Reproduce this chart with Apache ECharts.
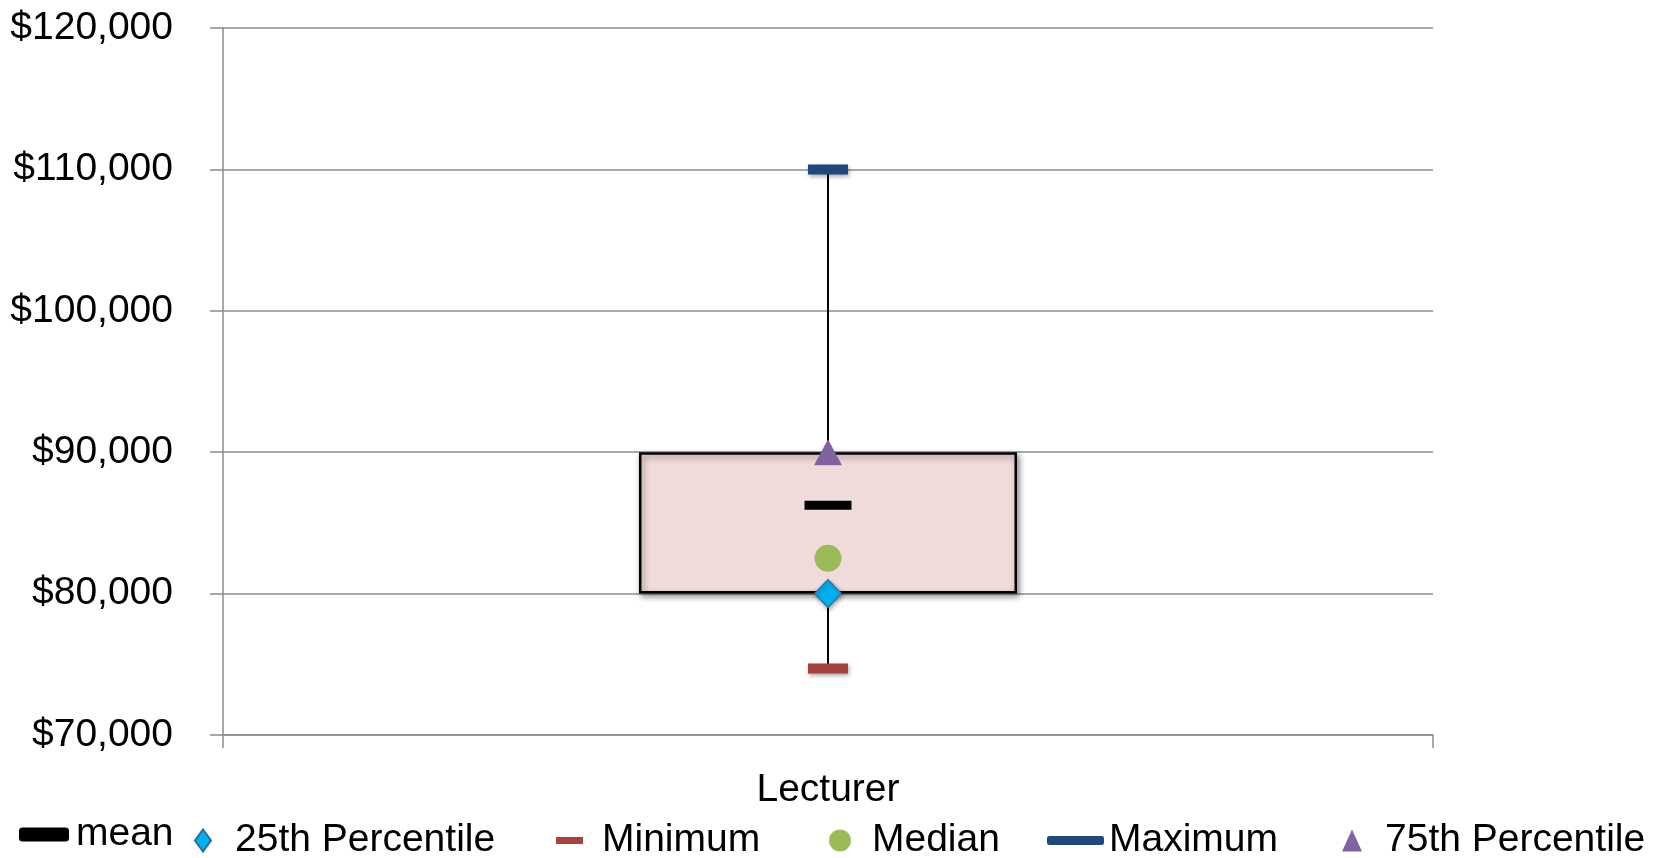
<!DOCTYPE html>
<html>
<head>
<meta charset="utf-8">
<script src="https://cdn.jsdelivr.net/npm/echarts@6/dist/echarts.min.js"></script>
<style>
html,body{margin:0;padding:0;background:#fff;}
#c{width:1667px;height:858px;}
</style>
</head>
<body>
<div id="c"></div>
<script>
const categories = ['Lecturer'];
const minVals = [74700];
const q1Vals = [80000];
const medianVals = [82500];
const meanVals = [86250];
const q3Vals = [90000];
const maxVals = [110000];
const yTicks = [70000, 80000, 90000, 100000, 110000, 120000];

const FONT = '"Liberation Sans", Arial, sans-serif';
const FS = 39;
const chart = echarts.init(document.getElementById('c'));

const boxHeights = q3Vals.map((v, i) => v - q1Vals[i]);
const whiskerData = [];
categories.forEach((c, i) => { whiskerData.push([c, minVals[i]], [c, maxVals[i]]); });

function lg(name, left, top, w, h, pad, icon) {
  const o = {
    data: [name], left: left, top: top, itemWidth: w, itemHeight: h, padding: 0,
    textStyle: { fontFamily: FONT, fontSize: FS, color: '#000', padding: [0, 0, 0, pad] },
    selectedMode: false
  };
  if (icon) o.icon = icon;
  return o;
}

const option = {
  animation: false,
  backgroundColor: '#fff',
  grid: { left: 223, right: 234, top: 28, bottom: 123 },
  legend: [
    lg('mean', 19, 815, 50, 14, 2, 'roundRect'),
    lg('25th Percentile', 194, 821, 16, 22, 19, 'diamond'),
    lg('Minimum', 556, 821, 27, 7, 14, 'rect'),
    lg('Median', 829, 821, 22, 22, 16, 'circle'),
    lg('Maximum', 1047, 821, 57, 9, 0, 'roundRect'),
    lg('75th Percentile', 1342, 821, 20, 22, 18, 'triangle')
  ],
  xAxis: {
    type: 'category',
    data: categories,
    boundaryGap: true,
    axisLine: { lineStyle: { color: '#8c8c8c', width: 1.5 } },
    axisTick: { show: true, length: 13, lineStyle: { color: '#8c8c8c', width: 1.5 } },
    axisLabel: { fontFamily: FONT, fontSize: FS, color: '#000', margin: 36 }
  },
  yAxis: {
    type: 'value',
    min: yTicks[0],
    max: yTicks[yTicks.length - 1],
    interval: 10000,
    axisLine: { show: true, lineStyle: { color: '#8c8c8c', width: 1.5 } },
    axisTick: { show: true, length: 13, lineStyle: { color: '#8c8c8c', width: 1.5 } },
    splitLine: { lineStyle: { color: '#8c8c8c', width: 1.5 } },
    axisLabel: {
      fontFamily: FONT, fontSize: FS, color: '#000', margin: 50,
      formatter: v => '$' + v.toLocaleString('en-US')
    }
  },
  series: [
    {
      name: 'whisker', type: 'line', data: whiskerData, symbol: 'none', z: 1,
      lineStyle: { color: '#000', width: 2 }, silent: true
    },
    {
      name: 'base', type: 'bar', stack: 'box', data: q1Vals, barWidth: 378, z: 2,
      itemStyle: { color: 'transparent' }, silent: true
    },
    {
      name: 'box', type: 'bar', stack: 'box', data: boxHeights, barWidth: 378, z: 2,
      itemStyle: {
        color: '#F2DCDB', borderColor: '#000', borderWidth: 2.5,
        shadowBlur: 6, shadowColor: 'rgba(0,0,0,0.45)', shadowOffsetX: 2, shadowOffsetY: 3
      }
    },
    {
      name: 'mean', type: 'scatter', data: meanVals, symbol: 'rect', symbolSize: [47, 9], z: 5,
      itemStyle: { color: '#000', opacity: 1 }
    },
    {
      name: '25th Percentile', type: 'scatter', data: q1Vals, symbol: 'diamond', symbolSize: [27, 28], z: 5,
      itemStyle: { color: '#00B0F0', opacity: 1, borderColor: '#2E6C9E', borderWidth: 1.2,
        shadowBlur: 4, shadowColor: 'rgba(0,0,0,0.35)', shadowOffsetX: 1, shadowOffsetY: 2 }
    },
    {
      name: 'Minimum', type: 'scatter', data: minVals, symbol: 'rect', symbolSize: [40, 10], z: 5,
      itemStyle: { color: '#A8403D', opacity: 1, shadowBlur: 4, shadowColor: 'rgba(0,0,0,0.35)', shadowOffsetX: 1, shadowOffsetY: 2 }
    },
    {
      name: 'Median', type: 'scatter', data: medianVals, symbol: 'circle', symbolSize: 27, z: 5,
      itemStyle: { color: '#9BBB59', opacity: 1 }
    },
    {
      name: 'Maximum', type: 'scatter', data: maxVals, symbol: 'rect', symbolSize: [40, 10], z: 5,
      itemStyle: { color: '#1F497D', opacity: 1, shadowBlur: 4, shadowColor: 'rgba(0,0,0,0.35)', shadowOffsetX: 1, shadowOffsetY: 2 }
    },
    {
      name: '75th Percentile', type: 'scatter', data: q3Vals, symbol: 'triangle', symbolSize: [28, 26], z: 5,
      itemStyle: { color: '#8064A2', opacity: 1 }
    }
  ]
};
chart.setOption(option);
</script>
</body>
</html>
